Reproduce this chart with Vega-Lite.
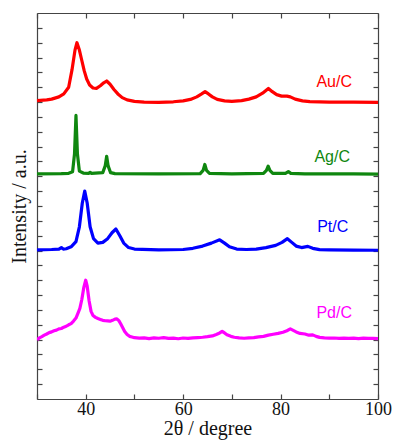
{
  "$schema": "https://vega.github.io/schema/vega-lite/v6.json",
  "width": 341,
  "height": 386,
  "autosize": "none",
  "padding": {"left": 37, "top": 13, "right": 16, "bottom": 41},
  "background": "white",
  "config": {
    "view": {"stroke": null},
    "axis": {
      "grid": false,
      "domainColor": "#444",
      "domainWidth": 1.2,
      "tickColor": "#444",
      "tickWidth": 1.2,
      "tickSize": -5,
      "labelFont": "Liberation Serif",
      "labelFontSize": 18,
      "labelColor": "#111",
      "titleFont": "Liberation Serif",
      "titleFontSize": 20,
      "titleFontWeight": "normal",
      "titleColor": "#111"
    }
  },
  "datasets": {
    "xrd": [
      {"s":"Au/C","x":30,"y":20.1},{"s":"Au/C","x":32,"y":20.15},{"s":"Au/C","x":33,"y":20.2},{"s":"Au/C","x":34.5,"y":20.35},{"s":"Au/C","x":35.5,"y":20.55},{"s":"Au/C","x":36.5,"y":21.0},{"s":"Au/C","x":37.2,"y":22.2},{"s":"Au/C","x":37.8,"y":23.5},{"s":"Au/C","x":38.2,"y":24.0},{"s":"Au/C","x":38.7,"y":23.5},{"s":"Au/C","x":39.2,"y":22.8},{"s":"Au/C","x":39.7,"y":22.1},{"s":"Au/C","x":40.2,"y":21.55},{"s":"Au/C","x":40.8,"y":21.15},{"s":"Au/C","x":41.5,"y":20.95},{"s":"Au/C","x":42.2,"y":20.92},{"s":"Au/C","x":43.0,"y":21.1},{"s":"Au/C","x":43.7,"y":21.3},{"s":"Au/C","x":44.3,"y":21.42},{"s":"Au/C","x":45.0,"y":21.2},{"s":"Au/C","x":45.8,"y":20.85},{"s":"Au/C","x":46.6,"y":20.55},{"s":"Au/C","x":47.5,"y":20.3},{"s":"Au/C","x":48.5,"y":20.15},{"s":"Au/C","x":50,"y":20.05},{"s":"Au/C","x":52,"y":20.0},{"s":"Au/C","x":55,"y":19.98},{"s":"Au/C","x":58,"y":20.02},{"s":"Au/C","x":60,"y":20.08},{"s":"Au/C","x":61.5,"y":20.18},{"s":"Au/C","x":62.8,"y":20.35},{"s":"Au/C","x":63.8,"y":20.55},{"s":"Au/C","x":64.5,"y":20.7},{"s":"Au/C","x":65.2,"y":20.55},{"s":"Au/C","x":66,"y":20.35},{"s":"Au/C","x":67,"y":20.18},{"s":"Au/C","x":68.5,"y":20.08},{"s":"Au/C","x":70,"y":20.05},{"s":"Au/C","x":72,"y":20.1},{"s":"Au/C","x":73.5,"y":20.2},{"s":"Au/C","x":75,"y":20.35},{"s":"Au/C","x":76.3,"y":20.6},{"s":"Au/C","x":77.5,"y":20.92},{"s":"Au/C","x":78.3,"y":20.7},{"s":"Au/C","x":79.2,"y":20.5},{"s":"Au/C","x":80.2,"y":20.4},{"s":"Au/C","x":81.3,"y":20.4},{"s":"Au/C","x":82,"y":20.35},{"s":"Au/C","x":83,"y":20.2},{"s":"Au/C","x":84.5,"y":20.08},{"s":"Au/C","x":86,"y":20.03},{"s":"Au/C","x":90,"y":20.0},{"s":"Au/C","x":95,"y":20.0},{"s":"Au/C","x":100,"y":19.98},

      {"s":"Ag/C","x":30,"y":15.17},{"s":"Ag/C","x":35,"y":15.18},{"s":"Ag/C","x":36.5,"y":15.2},{"s":"Ag/C","x":37.3,"y":15.3},{"s":"Ag/C","x":37.7,"y":16.5},{"s":"Ag/C","x":38.0,"y":19.1},{"s":"Ag/C","x":38.3,"y":16.5},{"s":"Ag/C","x":38.7,"y":15.35},{"s":"Ag/C","x":39.5,"y":15.22},{"s":"Ag/C","x":40.6,"y":15.2},{"s":"Ag/C","x":40.9,"y":15.27},{"s":"Ag/C","x":41.2,"y":15.2},{"s":"Ag/C","x":43.5,"y":15.25},{"s":"Ag/C","x":44.0,"y":15.7},{"s":"Ag/C","x":44.3,"y":16.35},{"s":"Ag/C","x":44.6,"y":15.7},{"s":"Ag/C","x":45.1,"y":15.25},{"s":"Ag/C","x":46,"y":15.18},{"s":"Ag/C","x":55,"y":15.17},{"s":"Ag/C","x":63.5,"y":15.18},{"s":"Ag/C","x":64.1,"y":15.4},{"s":"Ag/C","x":64.45,"y":15.8},{"s":"Ag/C","x":64.8,"y":15.4},{"s":"Ag/C","x":65.4,"y":15.2},{"s":"Ag/C","x":70,"y":15.17},{"s":"Ag/C","x":76.5,"y":15.2},{"s":"Ag/C","x":77.1,"y":15.4},{"s":"Ag/C","x":77.45,"y":15.68},{"s":"Ag/C","x":77.8,"y":15.4},{"s":"Ag/C","x":78.4,"y":15.2},{"s":"Ag/C","x":81,"y":15.2},{"s":"Ag/C","x":81.6,"y":15.32},{"s":"Ag/C","x":82.1,"y":15.2},{"s":"Ag/C","x":85,"y":15.17},{"s":"Ag/C","x":95,"y":15.17},{"s":"Ag/C","x":100,"y":15.15},

      {"s":"Pt/C","x":30,"y":10.05},{"s":"Pt/C","x":33,"y":10.07},{"s":"Pt/C","x":34.5,"y":10.1},{"s":"Pt/C","x":35.0,"y":10.2},{"s":"Pt/C","x":35.4,"y":10.1},{"s":"Pt/C","x":36,"y":10.12},{"s":"Pt/C","x":37,"y":10.25},{"s":"Pt/C","x":38,"y":10.6},{"s":"Pt/C","x":38.7,"y":11.6},{"s":"Pt/C","x":39.3,"y":13.2},{"s":"Pt/C","x":39.8,"y":14.0},{"s":"Pt/C","x":40.3,"y":13.2},{"s":"Pt/C","x":40.9,"y":11.6},{"s":"Pt/C","x":41.6,"y":10.8},{"s":"Pt/C","x":42.5,"y":10.5},{"s":"Pt/C","x":43.5,"y":10.55},{"s":"Pt/C","x":44.5,"y":10.8},{"s":"Pt/C","x":45.4,"y":11.2},{"s":"Pt/C","x":46.2,"y":11.45},{"s":"Pt/C","x":47,"y":11.0},{"s":"Pt/C","x":47.8,"y":10.5},{"s":"Pt/C","x":48.8,"y":10.2},{"s":"Pt/C","x":50,"y":10.1},{"s":"Pt/C","x":55,"y":10.05},{"s":"Pt/C","x":60,"y":10.07},{"s":"Pt/C","x":62,"y":10.15},{"s":"Pt/C","x":64,"y":10.3},{"s":"Pt/C","x":65.8,"y":10.5},{"s":"Pt/C","x":67.5,"y":10.72},{"s":"Pt/C","x":68.5,"y":10.5},{"s":"Pt/C","x":69.5,"y":10.25},{"s":"Pt/C","x":71,"y":10.1},{"s":"Pt/C","x":73,"y":10.07},{"s":"Pt/C","x":75,"y":10.1},{"s":"Pt/C","x":77,"y":10.2},{"s":"Pt/C","x":79,"y":10.35},{"s":"Pt/C","x":80.3,"y":10.55},{"s":"Pt/C","x":81.4,"y":10.8},{"s":"Pt/C","x":82.3,"y":10.55},{"s":"Pt/C","x":83.2,"y":10.3},{"s":"Pt/C","x":84.3,"y":10.2},{"s":"Pt/C","x":85.6,"y":10.28},{"s":"Pt/C","x":86.6,"y":10.15},{"s":"Pt/C","x":88,"y":10.06},{"s":"Pt/C","x":90,"y":10.05},{"s":"Pt/C","x":95,"y":10.03},{"s":"Pt/C","x":100,"y":10.02},

      {"s":"Pd/C","x":30,"y":4.0},{"s":"Pd/C","x":30.5,"y":4.12},{"s":"Pd/C","x":31,"y":4.2},{"s":"Pd/C","x":31.5,"y":4.3},{"s":"Pd/C","x":32,"y":4.38},{"s":"Pd/C","x":32.5,"y":4.47},{"s":"Pd/C","x":33,"y":4.52},{"s":"Pd/C","x":33.5,"y":4.6},{"s":"Pd/C","x":34,"y":4.64},{"s":"Pd/C","x":34.5,"y":4.72},{"s":"Pd/C","x":35,"y":4.75},{"s":"Pd/C","x":35.5,"y":4.84},{"s":"Pd/C","x":36,"y":4.9},{"s":"Pd/C","x":36.5,"y":5.0},{"s":"Pd/C","x":37,"y":5.08},{"s":"Pd/C","x":37.5,"y":5.25},{"s":"Pd/C","x":38,"y":5.45},{"s":"Pd/C","x":38.5,"y":5.85},{"s":"Pd/C","x":38.8,"y":6.1},{"s":"Pd/C","x":39.2,"y":6.7},{"s":"Pd/C","x":39.6,"y":7.5},{"s":"Pd/C","x":40.0,"y":8.0},{"s":"Pd/C","x":40.3,"y":7.6},{"s":"Pd/C","x":40.7,"y":6.6},{"s":"Pd/C","x":41.1,"y":5.9},{"s":"Pd/C","x":41.5,"y":5.62},{"s":"Pd/C","x":42,"y":5.5},{"s":"Pd/C","x":42.5,"y":5.42},{"s":"Pd/C","x":43,"y":5.36},{"s":"Pd/C","x":43.5,"y":5.3},{"s":"Pd/C","x":44,"y":5.27},{"s":"Pd/C","x":44.5,"y":5.26},{"s":"Pd/C","x":45,"y":5.24},{"s":"Pd/C","x":45.5,"y":5.3},{"s":"Pd/C","x":46,"y":5.38},{"s":"Pd/C","x":46.4,"y":5.4},{"s":"Pd/C","x":46.8,"y":5.28},{"s":"Pd/C","x":47.2,"y":5.05},{"s":"Pd/C","x":47.6,"y":4.8},{"s":"Pd/C","x":48,"y":4.55},{"s":"Pd/C","x":48.5,"y":4.35},{"s":"Pd/C","x":49,"y":4.22},{"s":"Pd/C","x":49.5,"y":4.18},{"s":"Pd/C","x":50,"y":4.13},{"s":"Pd/C","x":51,"y":4.1},{"s":"Pd/C","x":52,"y":4.12},{"s":"Pd/C","x":53,"y":4.07},{"s":"Pd/C","x":54,"y":4.12},{"s":"Pd/C","x":55,"y":4.09},{"s":"Pd/C","x":56,"y":4.13},{"s":"Pd/C","x":57,"y":4.08},{"s":"Pd/C","x":58,"y":4.1},{"s":"Pd/C","x":59,"y":4.06},{"s":"Pd/C","x":60,"y":4.11},{"s":"Pd/C","x":61,"y":4.08},{"s":"Pd/C","x":62,"y":4.12},{"s":"Pd/C","x":63,"y":4.14},{"s":"Pd/C","x":64,"y":4.16},{"s":"Pd/C","x":65,"y":4.2},{"s":"Pd/C","x":66,"y":4.25},{"s":"Pd/C","x":66.8,"y":4.35},{"s":"Pd/C","x":67.5,"y":4.45},{"s":"Pd/C","x":68,"y":4.56},{"s":"Pd/C","x":68.5,"y":4.45},{"s":"Pd/C","x":69,"y":4.32},{"s":"Pd/C","x":69.8,"y":4.22},{"s":"Pd/C","x":70.5,"y":4.16},{"s":"Pd/C","x":71.5,"y":4.12},{"s":"Pd/C","x":72.5,"y":4.09},{"s":"Pd/C","x":73.5,"y":4.12},{"s":"Pd/C","x":74.5,"y":4.13},{"s":"Pd/C","x":75.5,"y":4.18},{"s":"Pd/C","x":76.5,"y":4.22},{"s":"Pd/C","x":77.5,"y":4.3},{"s":"Pd/C","x":78.5,"y":4.36},{"s":"Pd/C","x":79.5,"y":4.42},{"s":"Pd/C","x":80.5,"y":4.5},{"s":"Pd/C","x":81.3,"y":4.6},{"s":"Pd/C","x":82,"y":4.72},{"s":"Pd/C","x":82.6,"y":4.62},{"s":"Pd/C","x":83.2,"y":4.52},{"s":"Pd/C","x":84,"y":4.42},{"s":"Pd/C","x":85,"y":4.38},{"s":"Pd/C","x":85.8,"y":4.3},{"s":"Pd/C","x":86.6,"y":4.32},{"s":"Pd/C","x":87.3,"y":4.22},{"s":"Pd/C","x":88,"y":4.15},{"s":"Pd/C","x":89,"y":4.12},{"s":"Pd/C","x":90,"y":4.1},{"s":"Pd/C","x":91,"y":4.11},{"s":"Pd/C","x":92,"y":4.08},{"s":"Pd/C","x":93,"y":4.1},{"s":"Pd/C","x":94,"y":4.09},{"s":"Pd/C","x":95,"y":4.1},{"s":"Pd/C","x":96,"y":4.07},{"s":"Pd/C","x":97,"y":4.1},{"s":"Pd/C","x":98,"y":4.08},{"s":"Pd/C","x":99,"y":4.09},{"s":"Pd/C","x":100,"y":4.07}
    ],
    "labels": [
      {"s":"Au/C","x":91.0,"y":21.34},
      {"s":"Ag/C","x":90.6,"y":16.3},
      {"s":"Pt/C","x":90.7,"y":11.56},
      {"s":"Pd/C","x":91.0,"y":5.8}
    ]
  },
  "layer": [
    {
      "data": {"name": "xrd"},
      "mark": {"type": "line", "strokeWidth": 3.2, "strokeJoin": "round", "clip": true},
      "encoding": {
        "x": {
          "field": "x", "type": "quantitative",
          "scale": {"domain": [30, 100], "nice": false, "zero": false},
          "axis": {
            "orient": "bottom",
            "values": [30, 40, 50, 60, 70, 80, 90, 100],
            "labelExpr": "datum.value % 20 == 0 ? datum.label : ''",
            "labelPadding": 6,
            "labelFlush": false,
            "title": "2θ / degree",
            "titlePadding": 0
          }
        },
        "y": {
          "field": "y", "type": "quantitative",
          "scale": {"domain": [0, 26], "nice": false, "zero": false},
          "axis": {
            "orient": "left",
            "values": [1,2,3,4,5,6,7,8,9,10,11,12,13,14,15,16,17,18,19,20,21,22,23,24,25],
            "labels": false,
            "title": "Intensity / a.u.",
            "titlePadding": 7
          }
        },
        "color": {
          "field": "s", "type": "nominal",
          "scale": {"domain": ["Au/C", "Ag/C", "Pt/C", "Pd/C"], "range": ["#ff0000", "#0f870f", "#0000ff", "#ff00ff"]},
          "legend": null
        }
      }
    },
    {
      "data": {"name": "labels"},
      "mark": {"type": "text", "font": "Liberation Sans", "fontSize": 16, "align": "center", "baseline": "middle"},
      "encoding": {
        "x": {
          "field": "x", "type": "quantitative",
          "scale": {"domain": [30, 100], "nice": false, "zero": false},
          "axis": {"orient": "top", "values": [30, 40, 50, 60, 70, 80, 90, 100], "labels": false, "title": null}
        },
        "y": {
          "field": "y", "type": "quantitative",
          "scale": {"domain": [0, 26], "nice": false, "zero": false},
          "axis": {"orient": "right", "values": [1,2,3,4,5,6,7,8,9,10,11,12,13,14,15,16,17,18,19,20,21,22,23,24,25], "labels": false, "title": null}
        },
        "text": {"field": "s", "type": "nominal"},
        "color": {
          "field": "s", "type": "nominal",
          "scale": {"domain": ["Au/C", "Ag/C", "Pt/C", "Pd/C"], "range": ["#ff0000", "#0f870f", "#0000ff", "#ff00ff"]},
          "legend": null
        }
      }
    }
  ],
  "resolve": {"axis": {"x": "independent", "y": "independent"}}
}
